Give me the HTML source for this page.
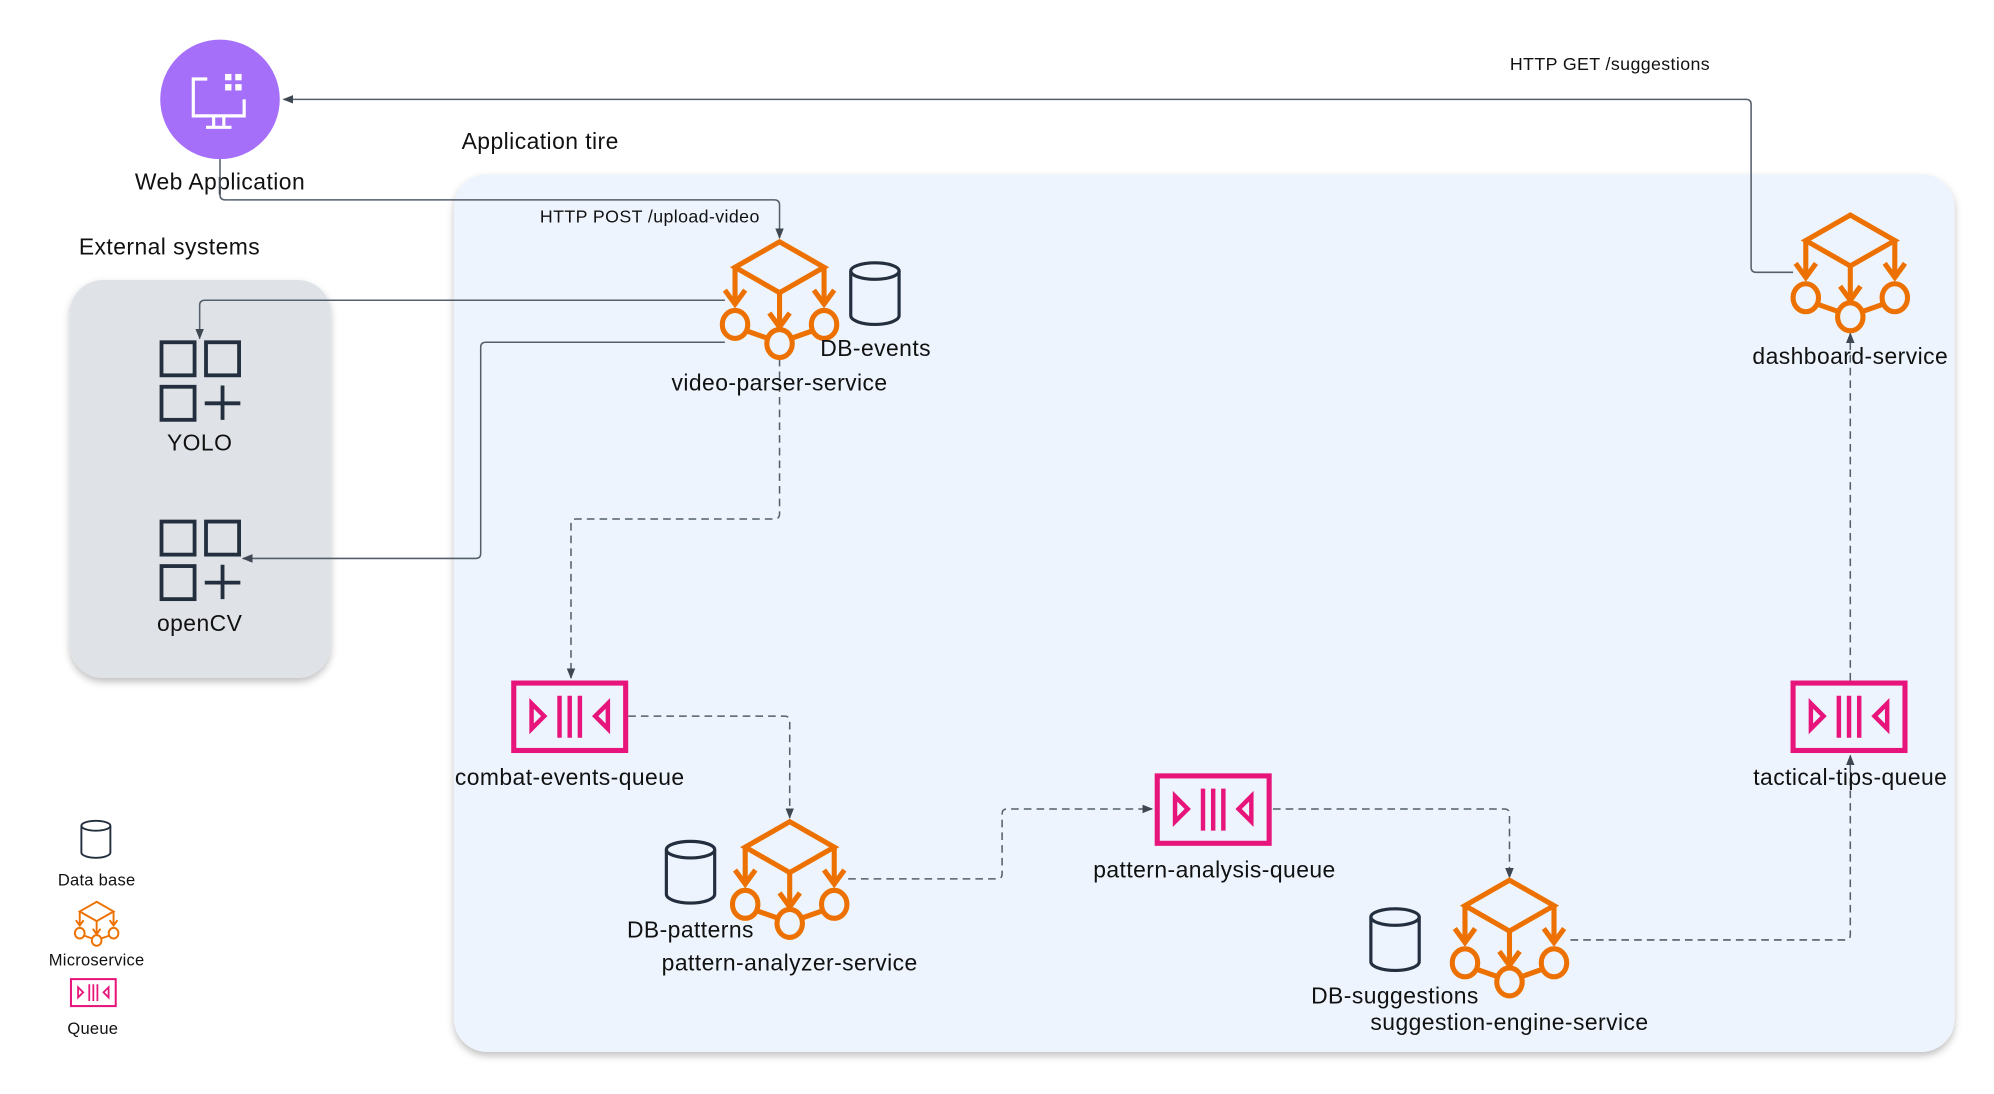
<!DOCTYPE html>
<html><head><meta charset="utf-8"><style>
html,body{margin:0;padding:0;background:#fff;}
svg{display:block;}
text{font-family:"Liberation Sans",sans-serif;fill:#111;}
.l{font-size:18px;letter-spacing:0.35px;}
.s{font-size:14px;letter-spacing:0.3px;}
.g{font-size:13px;letter-spacing:0.2px;}
</style></head><body>
<svg width="1994" height="1094" viewBox="0 0 1568 860" xmlns="http://www.w3.org/2000/svg">
<defs>
<filter id="sh" x="-5%" y="-5%" width="110%" height="110%"><feDropShadow dx="0" dy="3" stdDeviation="3" flood-color="#000" flood-opacity="0.25"/></filter>
<marker id="ar" viewBox="0 0 10 10" refX="9" refY="5" markerWidth="7" markerHeight="7" orient="auto"><path d="M0,1 L10,5 L0,9 z" fill="#3f4752"/></marker>
<g id="ms" fill="none" stroke="#ed7100" stroke-width="4" stroke-linejoin="miter">
<path d="M0,0 L-35,20 L0,40 L35,20 Z"/>
<path d="M-35,20 V48 M0,40 V66 M35,20 V48"/>
<path d="M-43,38 L-35,49 L-27,38 M-8,56 L0,67 L8,56 M27,38 L35,49 L43,38"/>
<ellipse cx="-35" cy="65" rx="10" ry="11"/>
<ellipse cx="0" cy="80" rx="10" ry="11"/>
<ellipse cx="35" cy="65" rx="10" ry="11"/>
<path d="M-26,70 L-9,76 M9,76 L26,70"/>
</g>
<g id="qu" fill="none" stroke="#e7157b" stroke-width="4">
<rect x="2" y="2" width="88" height="53"/>
<path d="M16,18 L26,28 L16,38 Z" stroke-width="3.5"/>
<path d="M76,18 L66,28 L76,38 Z" stroke-width="3.5"/>
<path d="M38,12 V45 M46,12 V45 M54,12 V45" stroke-width="3.5"/>
</g>
<g id="db" fill="none" stroke="#232f3e" stroke-width="2.5">
<path d="M0,7 V42 A19,7 0 0 0 38,42 V7"/>
<ellipse cx="19" cy="7" rx="19" ry="6.5"/>
</g>
<g id="ext" fill="none" stroke="#232f3e" stroke-width="3">
<rect x="1" y="1" width="26" height="26"/>
<rect x="36" y="1" width="26" height="26"/>
<rect x="1" y="36" width="26" height="26"/>
<path d="M49,35 V62 M35,49 H63"/>
</g>
</defs>

<rect x="357" y="137" width="1180" height="690" rx="26" fill="#edf4fd" filter="url(#sh)"/>
<rect x="55" y="220" width="205" height="313" rx="26" fill="#dfe2e7" filter="url(#sh)"/>

<circle cx="173" cy="78" r="47" fill="#a66ff9"/>
<g fill="none" stroke="#fff" stroke-width="2.5">
<path d="M163,62 H152 V91 H192 V78"/>
<path d="M168,92 V99 M176,92 V99 M162,100 H182"/>
</g>
<g fill="#fff"><rect x="177" y="58" width="5" height="5"/><rect x="185" y="58" width="5" height="5"/><rect x="177" y="66" width="5" height="5"/><rect x="185" y="66" width="5" height="5"/></g>
<text x="173" y="149" class="l" text-anchor="middle">Web Application</text>
<text x="363" y="117" class="l">Application tire</text>
<text x="62" y="200" class="l">External systems</text>

<use href="#ext" x="126" y="268"/>
<text x="157" y="354" class="l" text-anchor="middle">YOLO</text>
<use href="#ext" x="126" y="409"/>
<text x="157" y="496" class="l" text-anchor="middle">openCV</text>

<g fill="none" stroke="#555e6b" stroke-width="1.2">
<path d="M173,125 V153 Q173,157 177,157 H609 Q613,157 613,161 V187" marker-end="url(#ar)"/>
<path d="M1410,214 H1381 Q1377,214 1377,210 V82 Q1377,78 1373,78 H223" marker-end="url(#ar)"/>
<path d="M570,236 H161 Q157,236 157,240 V266" marker-end="url(#ar)"/>
<path d="M570,269 H382 Q378,269 378,273 V435 Q378,439 374,439 H191" marker-end="url(#ar)"/>
</g>
<text x="511" y="175" class="s" text-anchor="middle">HTTP POST /upload-video</text>
<text x="1266" y="55" class="s" text-anchor="middle">HTTP GET /suggestions</text>

<g fill="none" stroke="#555e6b" stroke-width="1.2" stroke-dasharray="6,4">
<path d="M613,282 V404 Q613,408 609,408 H453 Q449,408 449,412 V533" marker-end="url(#ar)"/>
<path d="M494,563 H617 Q621,563 621,567 V643" marker-end="url(#ar)"/>
<path d="M667,691 H784 Q788,691 788,687 V640 Q788,636 792,636 H906" marker-end="url(#ar)"/>
<path d="M1001,636 H1183 Q1187,636 1187,640 V690" marker-end="url(#ar)"/>
<path d="M1235,739 H1451 Q1455,739 1455,735 V594" marker-end="url(#ar)"/>
<path d="M1455,535 V262" marker-end="url(#ar)"/>
</g>

<use href="#ms" x="613" y="190"/>
<use href="#db" x="669" y="206"/>
<text x="645" y="280" class="l">DB-events</text>
<text x="613" y="307" class="l" text-anchor="middle">video-parser-service</text>

<use href="#ms" x="1455" y="169"/>
<text x="1455" y="286" class="l" text-anchor="middle">dashboard-service</text>

<use href="#qu" x="402" y="535"/>
<text x="448" y="617" class="l" text-anchor="middle">combat-events-queue</text>

<use href="#ms" x="621" y="646"/>
<use href="#db" x="524" y="661"/>
<text x="493" y="737" class="l">DB-patterns</text>
<text x="621" y="763" class="l" text-anchor="middle">pattern-analyzer-service</text>

<use href="#qu" x="908" y="608"/>
<text x="955" y="690" class="l" text-anchor="middle">pattern-analysis-queue</text>

<use href="#ms" x="1187" y="692"/>
<use href="#db" x="1078" y="714"/>
<text x="1031" y="789" class="l">DB-suggestions</text>
<text x="1187" y="810" class="l" text-anchor="middle">suggestion-engine-service</text>

<use href="#qu" x="1408" y="535"/>
<text x="1455" y="617" class="l" text-anchor="middle">tactical-tips-queue</text>

<g transform="translate(64,645) scale(0.6)"><use href="#db"/></g>
<text x="76" y="696" class="g" text-anchor="middle">Data base</text>
<g transform="translate(76,709) scale(0.38)"><use href="#ms"/></g>
<text x="76" y="759" class="g" text-anchor="middle">Microservice</text>
<g transform="translate(55,769) scale(0.4)"><use href="#qu"/></g>
<text x="73" y="813" class="g" text-anchor="middle">Queue</text>
</svg>
</body></html>
